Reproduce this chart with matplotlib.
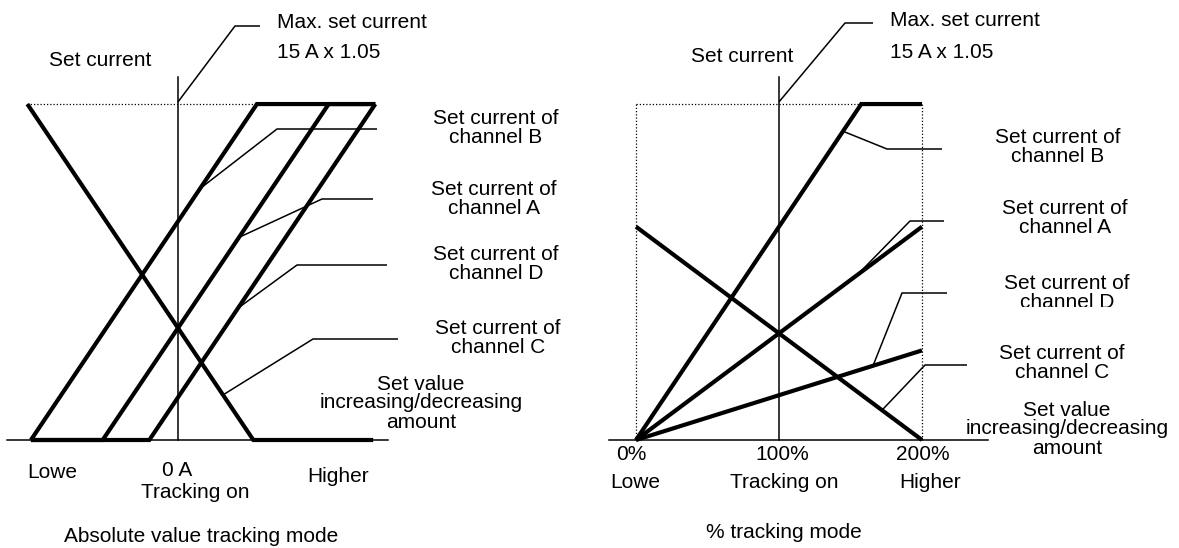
import numpy as np
import matplotlib
matplotlib.use("Agg")
import matplotlib.pyplot as plt
from matplotlib.patches import Rectangle
from matplotlib.transforms import IdentityTransform

plt.rcParams["font.family"] = ["Liberation Sans", "DejaVu Sans"]

# ---- data -------------------------------------------------------------
max_current = 15 * 1.05  # A

# Absolute value tracking mode: offset (A) vs. set current (A)
abs_b_offset = [-10.25, 5.5, 13.75]
abs_b_current = [0.0, max_current, max_current]
abs_a_offset = [-10.25, -5.25, 10.5, 13.75]
abs_a_current = [0.0, 0.0, max_current, max_current]
abs_d_offset = [-10.25, -2.0, 13.75]
abs_d_current = [0.0, 0.0, max_current]
abs_c_offset = [-10.5, 5.25, 13.6]
abs_c_current = [max_current, 0.0, 0.0]

# % tracking mode: tracking ratio (%) vs. set current (A)
pct_b_ratio = [0, 157.5, 200]
pct_b_current = [0.0, max_current, max_current]
pct_a_ratio = [0, 200]
pct_a_current = [0.0, 10.0]
pct_d_ratio = [0, 200]
pct_d_current = [0.0, 4.2]
pct_c_ratio = [0, 200]
pct_c_current = [10.0, 0.0]
pct_ticks = [0, 100, 200]
pct_tick_labels = ["0%", "100%", "200%"]

channel_labels = ["Set current of\nchannel B", "Set current of\nchannel A",
                  "Set current of\nchannel D", "Set current of\nchannel C"]
amount_label = "Set value\nincreasing/decreasing\namount"
max_label = ["Max. set current", "15 A x 1.05"]

# ---- figure -----------------------------------------------------------
W, H = 1179, 548
fig = plt.figure(figsize=(W / 100, H / 100), dpi=100)

Y0, YS = 440, 21.33  # baseline pixel row and pixels per ampere


def panel(x_lo, x_hi, x0, xs):
    ax = fig.add_axes([x_lo / W, 0, (x_hi - x_lo) / W, 1])
    ax.set_xlim((x_lo - x0) / xs, (x_hi - x0) / xs)
    ax.set_ylim((Y0 - H) / YS, Y0 / YS)
    ax.axis("off")

    def P(px, py):
        return (px - x0) / xs, (Y0 - py) / YS
    return ax, P


FS = 15
THICK = 3.0
THIN = 1.1
DOT = dict(color="black", lw=0.9, linestyle=(0, (1, 1.6)))
TXT = dict(fontsize=FS, color="black", linespacing=1.0, clip_on=False)


def thick(ax, x, y):
    ax.plot(x, y, color="black", lw=THICK, solid_capstyle="butt",
            solid_joinstyle="miter")


def leader(ax, P, anchor, elbow_px, end_px):
    ex, ey = P(*elbow_px)
    fx, fy = P(*end_px)
    ax.plot([anchor[0], ex, fx], [anchor[1], ey, fy], color="black",
            lw=THIN, solid_capstyle="butt")


# ---- absolute value tracking mode ------------------------------------
axL, PL = panel(0, 590, 178, 14.35)

axL.plot([PL(7, 0)[0], PL(388, 0)[0]], [0, 0], color="black", lw=THIN)
axL.plot([0, 0], [0, PL(0, 77)[1]], color="black", lw=THIN)
axL.plot([abs_c_offset[0], abs_b_offset[1]], [max_current, max_current], **DOT)

thick(axL, abs_b_offset, abs_b_current)
thick(axL, abs_a_offset, abs_a_current)
thick(axL, abs_d_offset, abs_d_current)
thick(axL, abs_c_offset, abs_c_current)

# leaders
leader(axL, PL, (0, max_current + 0.1), (235, 26), (260, 26))
for off, cur, ax_px, elbow, end in [
        (abs_b_offset, abs_b_current, 200, (277, 129), (377, 129)),
        (abs_a_offset, abs_a_current, 239, (322, 199), (373, 199)),
        (abs_d_offset, abs_d_current, 238, (297, 265), (387, 265))]:
    xa = PL(ax_px, 0)[0]
    leader(axL, PL, (xa, np.interp(xa, off, cur)), elbow, end)
xa = PL(223, 0)[0]
leader(axL, PL, (xa, np.interp(xa, abs_c_offset, abs_c_current)), (313, 339), (398, 339))

axL.text(*PL(100, 60), "Set current", ha="center", va="center", **TXT)
axL.text(*PL(277, 22), max_label[0], ha="left", va="center", **TXT)
axL.text(*PL(277, 53), max_label[1], ha="left", va="center", **TXT)
for lab, (cx, cy) in zip(channel_labels, [(496, 128), (494, 199), (496, 264), (498, 338)]):
    axL.text(*PL(cx, cy), lab, ha="center", va="center", **TXT)
axL.text(*PL(421, 403), amount_label, ha="center", va="center", **TXT)

axL.text(*PL(52, 473), "Lowe", ha="center", va="center", **TXT)
axL.text(*PL(177, 470), "0 A", ha="center", va="center", **TXT)
axL.text(*PL(195, 493), "Tracking on", ha="center", va="center", **TXT)
axL.text(*PL(338, 477), "Higher", ha="center", va="center", **TXT)
axL.text(*PL(201, 537), "Absolute value tracking mode", ha="center", va="center", **TXT)

# ---- % tracking mode --------------------------------------------------
axR, PR = panel(590, 1179, 636, 1.43)

axR.plot([PR(609, 0)[0], PR(988, 0)[0]], [0, 0], color="black", lw=THIN)
axR.plot([pct_ticks[1]] * 2, [0, PR(0, 77)[1]], color="black", lw=THIN)
axR.plot([pct_ticks[0], pct_ticks[2]], [max_current, max_current], **DOT)
axR.plot([pct_ticks[0]] * 2, [0, max_current], **DOT)
axR.plot([pct_ticks[2]] * 2, [0, max_current], **DOT)

thick(axR, pct_b_ratio, pct_b_current)
thick(axR, pct_a_ratio, pct_a_current)
thick(axR, pct_d_ratio, pct_d_current)
thick(axR, pct_c_ratio, pct_c_current)

leader(axR, PR, (pct_ticks[1], max_current + 0.1), (845, 23), (873, 23))
for rat, cur, ax_px, elbow, end in [
        (pct_b_ratio, pct_b_current, 843, (887, 149), (942, 149)),
        (pct_a_ratio, pct_a_current, 857, (910, 221), (944, 221)),
        (pct_d_ratio, pct_d_current, 873, (902, 293), (947, 293)),
        (pct_c_ratio, pct_c_current, 882, (925, 365), (967, 365))]:
    xa = PR(ax_px, 0)[0]
    leader(axR, PR, (xa, np.interp(xa, rat, cur)), elbow, end)

axR.text(*PR(742, 57), "Set current", ha="center", va="center", **TXT)
axR.text(*PR(890, 20), max_label[0], ha="left", va="center", **TXT)
axR.text(*PR(890, 52), max_label[1], ha="left", va="center", **TXT)
for lab, (cx, cy) in zip(channel_labels, [(1058, 147), (1065, 218), (1067, 293), (1062, 363)]):
    t = axR.text(*PR(cx, cy), lab, ha="center", va="center", **TXT)
    if "channel D" in lab:
        # the lower line of this label is cut off just under the letters
        t.set_clip_on(True)
        t.set_clip_path(Rectangle((960, H - 307), 219, 60, transform=IdentityTransform()))
axR.text(*PR(1067, 429), amount_label, ha="center", va="center", **TXT)

for v, lab, cx in zip(pct_ticks, pct_tick_labels, [631, 782, 923]):
    axR.text(PR(cx, 0)[0], PR(0, 454)[1], lab, ha="center", va="center", **TXT)
axR.text(*PR(635, 482), "Lowe", ha="center", va="center", **TXT)
axR.text(*PR(784, 482), "Tracking on", ha="center", va="center", **TXT)
axR.text(*PR(930, 482), "Higher", ha="center", va="center", **TXT)
axR.text(*PR(784, 533), "% tracking mode", ha="center", va="center", **TXT)

fig.savefig("out.png", dpi=100, facecolor="white")
